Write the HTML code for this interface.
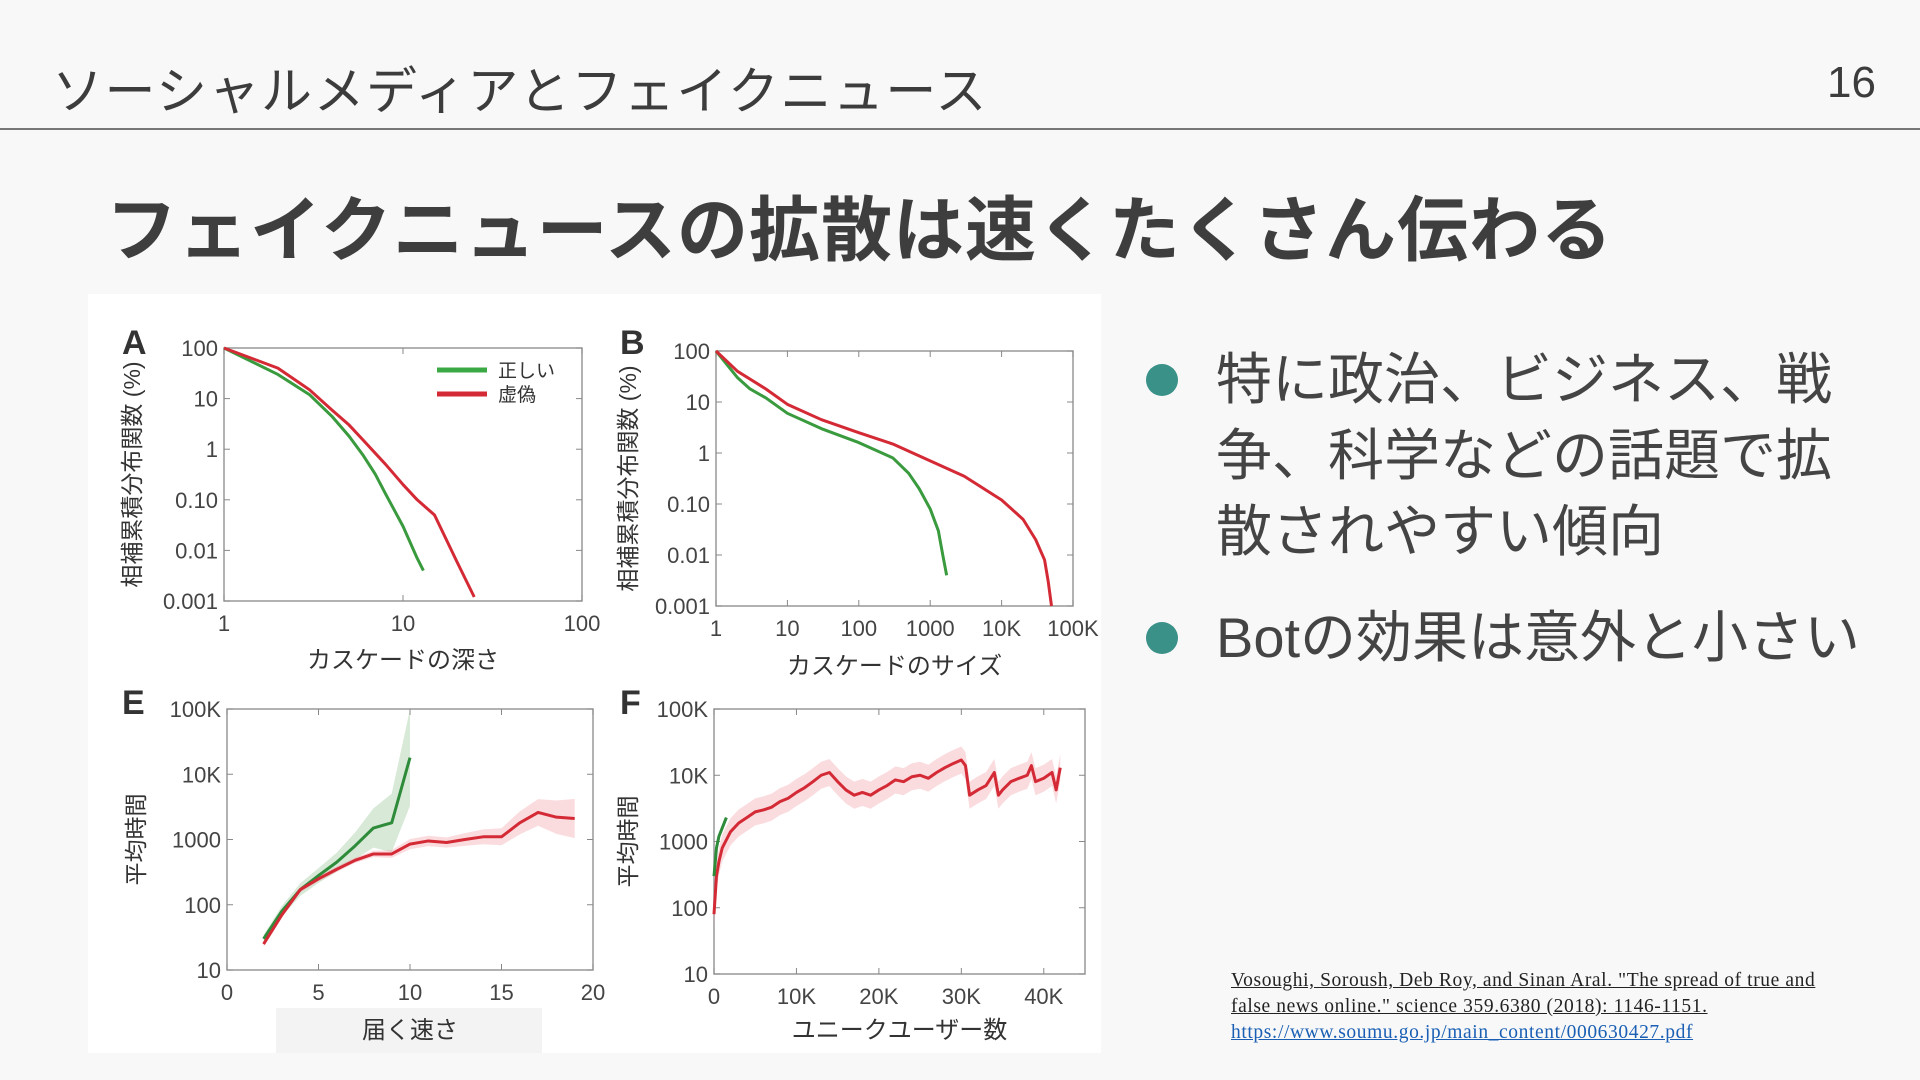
<!DOCTYPE html>
<html><head><meta charset="utf-8">
<style>
html,body{margin:0;padding:0;background:#f8f8f8;}
body{width:1920px;height:1080px;position:relative;overflow:hidden;font-family:"Liberation Sans","Noto Sans CJK JP",sans-serif;color:#444;}
.abs{position:absolute;}
#hdr{left:52px;top:50px;font-size:51px;color:#3c3c3c;white-space:nowrap;letter-spacing:1.5px;}
#pg{right:44px;top:58px;font-size:44px;color:#3c3c3c;}
#rule{left:0;top:128px;width:1920px;height:2px;background:#777;}
#ttl{left:106px;top:174px;font-size:71px;font-weight:bold;color:#3e3e3e;white-space:nowrap;letter-spacing:1px;}
.bul{left:1146px;width:32px;height:32px;border-radius:50%;background:#3a9188;}
.btx{left:1216px;font-size:56px;line-height:76px;color:#444;white-space:nowrap;}
#cite{left:1231px;top:968px;font-family:"Liberation Serif",serif;font-size:19.5px;line-height:26px;color:#222;letter-spacing:0.6px;white-space:nowrap;}
#cite span{text-decoration:underline;}
#cite a{color:#1a5fb4;text-decoration:underline;}
svg text{font-family:"Liberation Sans","Noto Sans CJK JP",sans-serif;}
</style></head>
<body>
<div id="hdr" class="abs">ソーシャルメディアとフェイクニュース</div>
<div id="pg" class="abs">16</div>
<div id="rule" class="abs"></div>
<div id="ttl" class="abs">フェイクニュースの拡散は速くたくさん伝わる</div>

<div class="abs bul" style="top:364px"></div>
<div class="abs btx" style="top:342px">特に政治、ビジネス、戦<br>争、科学などの話題で拡<br>散されやすい傾向</div>
<div class="abs bul" style="top:622px"></div>
<div class="abs btx" style="top:600px">Botの効果は意外と小さい</div>

<div id="cite" class="abs"><span>Vosoughi, Soroush, Deb Roy, and Sinan Aral. "The spread of true and</span><br><span>false news online." science 359.6380 (2018): 1146-1151.</span><br><a>https://www.soumu.go.jp/main_content/000630427.pdf</a></div>

<svg id="fig" class="abs" style="left:0;top:0" width="1920" height="1080"></svg>

<script>
// Panel A data
const aGreenX=[1,2,3,4,5,6,7,8,9,10,11,12,13];
const aGreenY=[100,30,12,4.5,1.8,0.75,0.32,0.13,0.06,0.03,0.014,0.007,0.004];
const aRedX=[1,2,3,4,5,6,8,10,12,15,20,25];
const aRedY=[100,40,15,6,3,1.5,0.5,0.2,0.1,0.05,0.006,0.0012];
// Panel B data
const bGreenX=[1,2,3,5,10,30,100,300,500,700,1000,1300,1500,1700];
const bGreenY=[100,30,18,12,6,3,1.6,0.8,0.4,0.2,0.08,0.03,0.01,0.004];
const bRedX=[1,2,5,10,30,100,300,1000,3000,10000,20000,30000,40000,45000,50000];
const bRedY=[100,40,18,9,4.5,2.5,1.5,0.7,0.35,0.12,0.05,0.02,0.008,0.003,0.001];
// Panel E data
const eGreenX=[2,3,4,5,6,7,8,9,10];
const eGreenY=[30,80,170,280,450,800,1500,1800,18000];
const eGreenBand=[1.15,1.2,1.25,1.3,1.4,1.6,2.0,2.8,5.5];
const eRedX=[2,3,4,5,6,7,8,9,10,11,12,13,14,15,16,17,18,19];
const eRedY=[25,70,170,250,350,480,600,600,850,950,900,1000,1100,1100,1800,2600,2200,2100];
const eRedBand=[1.1,1.1,1.1,1.1,1.1,1.1,1.12,1.15,1.2,1.2,1.2,1.25,1.3,1.35,1.5,1.6,1.8,2.0];
// Panel F data
const fGreenX=[0,300,600,1000,1500];
const fGreenY=[300,800,1200,1600,2300];
const fRedX=[0,300,600,1000,2000,3000,4000,5000,6000,7000,8000,9000,10000,11000,12000,13000,14000,15000,16000,17000,18000,19000,20000,21000,22000,23000,24000,25000,26000,27000,28000,29000,30000,30500,31000,32000,33000,34000,34500,35000,36000,37000,38000,38500,39000,40000,41000,41500,42000];
const fRedY=[80,300,500,800,1400,1900,2300,2800,3000,3300,4000,4500,5500,6500,8000,10000,11000,8000,6000,5000,5500,5000,6000,7000,8500,8000,9500,10000,9000,11000,13000,15000,17000,14000,5000,6000,7000,11000,5000,6000,8000,9000,10000,14000,8000,9000,11000,6000,13000];
const fRedBand=1.6;

const NS='http://www.w3.org/2000/svg';
const svg=document.getElementById('fig');
function mk(tag,attrs,parent){const e=document.createElementNS(NS,tag);for(const k in attrs)e.setAttribute(k,attrs[k]);(parent||svg).appendChild(e);return e;}
function txt(s,x,y,attrs,parent){const t=mk('text',Object.assign({x:x,y:y},attrs),parent);t.textContent=s;return t;}

const bg=mk('rect',{x:88,y:294,width:1013,height:759,fill:'#ffffff'});


const gbox=mk('rect',{x:276,y:1008,width:266,height:45,fill:'#f3f3f3'});



function logScale(min,max,a,b){const l0=Math.log10(min),l1=Math.log10(max);return v=>a+(Math.log10(v)-l0)/(l1-l0)*(b-a);}
function linScale(min,max,a,b){return v=>a+(v-min)/(max-min)*(b-a);}

function panel(o){
  const g=mk('g',{});
  
  
  const {x0,x1,y0,y1}=o;
  const fr=mk('rect',{x:x0,y:y0,width:x1-x0,height:y1-y0,fill:'none',stroke:'#999','stroke-width':1.5},g);
  
  
  o.xt.forEach((v,i)=>{const px=o.sx(v);
    mk('line',{x1:px,y1:y1,x2:px,y2:y1-6,stroke:'#888'},g);
    mk('line',{x1:px,y1:y0,x2:px,y2:y0+6,stroke:'#888'},g);
    const t=txt(o.xl[i],px,y1+30,{'font-size':22,fill:'#444','text-anchor':'middle'},g);
    
    });
  o.yt.forEach((v,i)=>{const py=o.sy(v);
    mk('line',{x1:x0,y1:py,x2:x0+6,y2:py,stroke:'#888'},g);
    mk('line',{x1:x1,y1:py,x2:x1-6,y2:py,stroke:'#888'},g);
    const t=txt(o.yl[i],x0-6,py+8,{'font-size':22,fill:'#444','text-anchor':'end'},g);
    
    });
  const L=txt(o.letter,o.lx,o.ly,{'font-size':34,'font-weight':'bold',fill:'#333'},g);
  
  
  const xt=txt(o.xlabel,(x0+x1)/2,o.xly,{'font-size':24,fill:'#333','text-anchor':'middle'},g);
  
  
  const yt=txt(o.ylabel,0,0,{'font-size':23,fill:'#333','text-anchor':'middle',transform:`translate(${o.ylx},${(y0+y1)/2}) rotate(-90)`},g);
  
  
  return g;
}
function band(g,X,Y,B,sx,sy,color,name){
  const up=X.map((x,i)=>[sx(x),sy(Y[i]*(Array.isArray(B)?B[i]:B))]);
  const lo=X.map((x,i)=>[sx(x),sy(Y[i]/(Array.isArray(B)?B[i]:B))]).reverse();
  const p=mk('polygon',{points:up.concat(lo).map(q=>q.join(',')).join(' '),fill:color,opacity:0.3},g);
  
  
}
function line(g,X,Y,sx,sy,color,name){
  const p=mk('polyline',{points:X.map((x,i)=>sx(x)+','+sy(Y[i])).join(' '),fill:'none',stroke:color,'stroke-width':3,'stroke-linejoin':'round'},g);
  
  
}
const GREEN='#2e8b3a',RED='#d42a35';

{const sx=logScale(1,100,224,582),sy=logScale(0.001,100,601,348);
 const g=panel({name:'panel-a',x0:224,x1:582,y0:348,y1:601,sx,sy,xt:[1,10,100],xl:['1','10','100'],yt:[100,10,1,0.1,0.01,0.001],yl:['100','10','1','0.10','0.01','0.001'],letter:'A',lx:122,ly:354,xlabel:'カスケードの深さ',xly:668,ylabel:'相補累積分布関数 (%)',ylx:140});
 line(g,aGreenX,aGreenY,sx,sy,'#3a9a3e','line-true-a');
 line(g,aRedX,aRedY,sx,sy,RED,'line-false-a');
 const s1=mk('line',{x1:437,y1:370,x2:487,y2:370,stroke:'#3aa845','stroke-width':5},g);
 
 
 const s2=mk('line',{x1:437,y1:394,x2:487,y2:394,stroke:RED,'stroke-width':5},g);
 
 
 const l1=txt('正しい',498,377,{'font-size':19,fill:'#333'},g);
 
 
 const l2=txt('虚偽',498,401,{'font-size':19,fill:'#333'},g);
 
 
}
{const sx=logScale(1,100000,716,1073),sy=logScale(0.001,100,606,351);
 const g=panel({name:'panel-b',x0:716,x1:1073,y0:351,y1:606,sx,sy,xt:[1,10,100,1000,10000,100000],xl:['1','10','100','1000','10K','100K'],yt:[100,10,1,0.1,0.01,0.001],yl:['100','10','1','0.10','0.01','0.001'],letter:'B',lx:620,ly:354,xlabel:'カスケードのサイズ',xly:674,ylabel:'相補累積分布関数 (%)',ylx:636});
 line(g,bGreenX,bGreenY,sx,sy,'#3a9a3e','line-true-b');
 line(g,bRedX,bRedY,sx,sy,RED,'line-false-b');
}
{const sx=linScale(0,20,227,593),sy=logScale(10,100000,970,709);
 const g=panel({name:'panel-e',x0:227,x1:593,y0:709,y1:970,sx,sy,xt:[0,5,10,15,20],xl:['0','5','10','15','20'],yt:[100000,10000,1000,100,10],yl:['100K','10K','1000','100','10'],letter:'E',lx:122,ly:714,xlabel:'届く速さ',xly:1038,ylabel:'平均時間',ylx:144});
 band(g,eGreenX,eGreenY,eGreenBand,sx,sy,'#7fb57f','band-true-e');
 band(g,eRedX,eRedY,eRedBand,sx,sy,'#ee8a95','band-false-e');
 line(g,eGreenX,eGreenY,sx,sy,GREEN,'line-true-e');
 line(g,eRedX,eRedY,sx,sy,RED,'line-false-e');
}
{const sx=linScale(0,45000,714,1085),sy=logScale(10,100000,974,709);
 const g=panel({name:'panel-f',x0:714,x1:1085,y0:709,y1:974,sx,sy,xt:[0,10000,20000,30000,40000],xl:['0','10K','20K','30K','40K'],yt:[100000,10000,1000,100,10],yl:['100K','10K','1000','100','10'],letter:'F',lx:620,ly:714,xlabel:'ユニークユーザー数',xly:1038,ylabel:'平均時間',ylx:636});
 band(g,fRedX,fRedY,fRedBand,sx,sy,'#ee8a95','band-false-f');
 line(g,fRedX,fRedY,sx,sy,RED,'line-false-f');
 line(g,fGreenX,fGreenY,sx,sy,GREEN,'line-true-f');
}
</script>
</body></html>
